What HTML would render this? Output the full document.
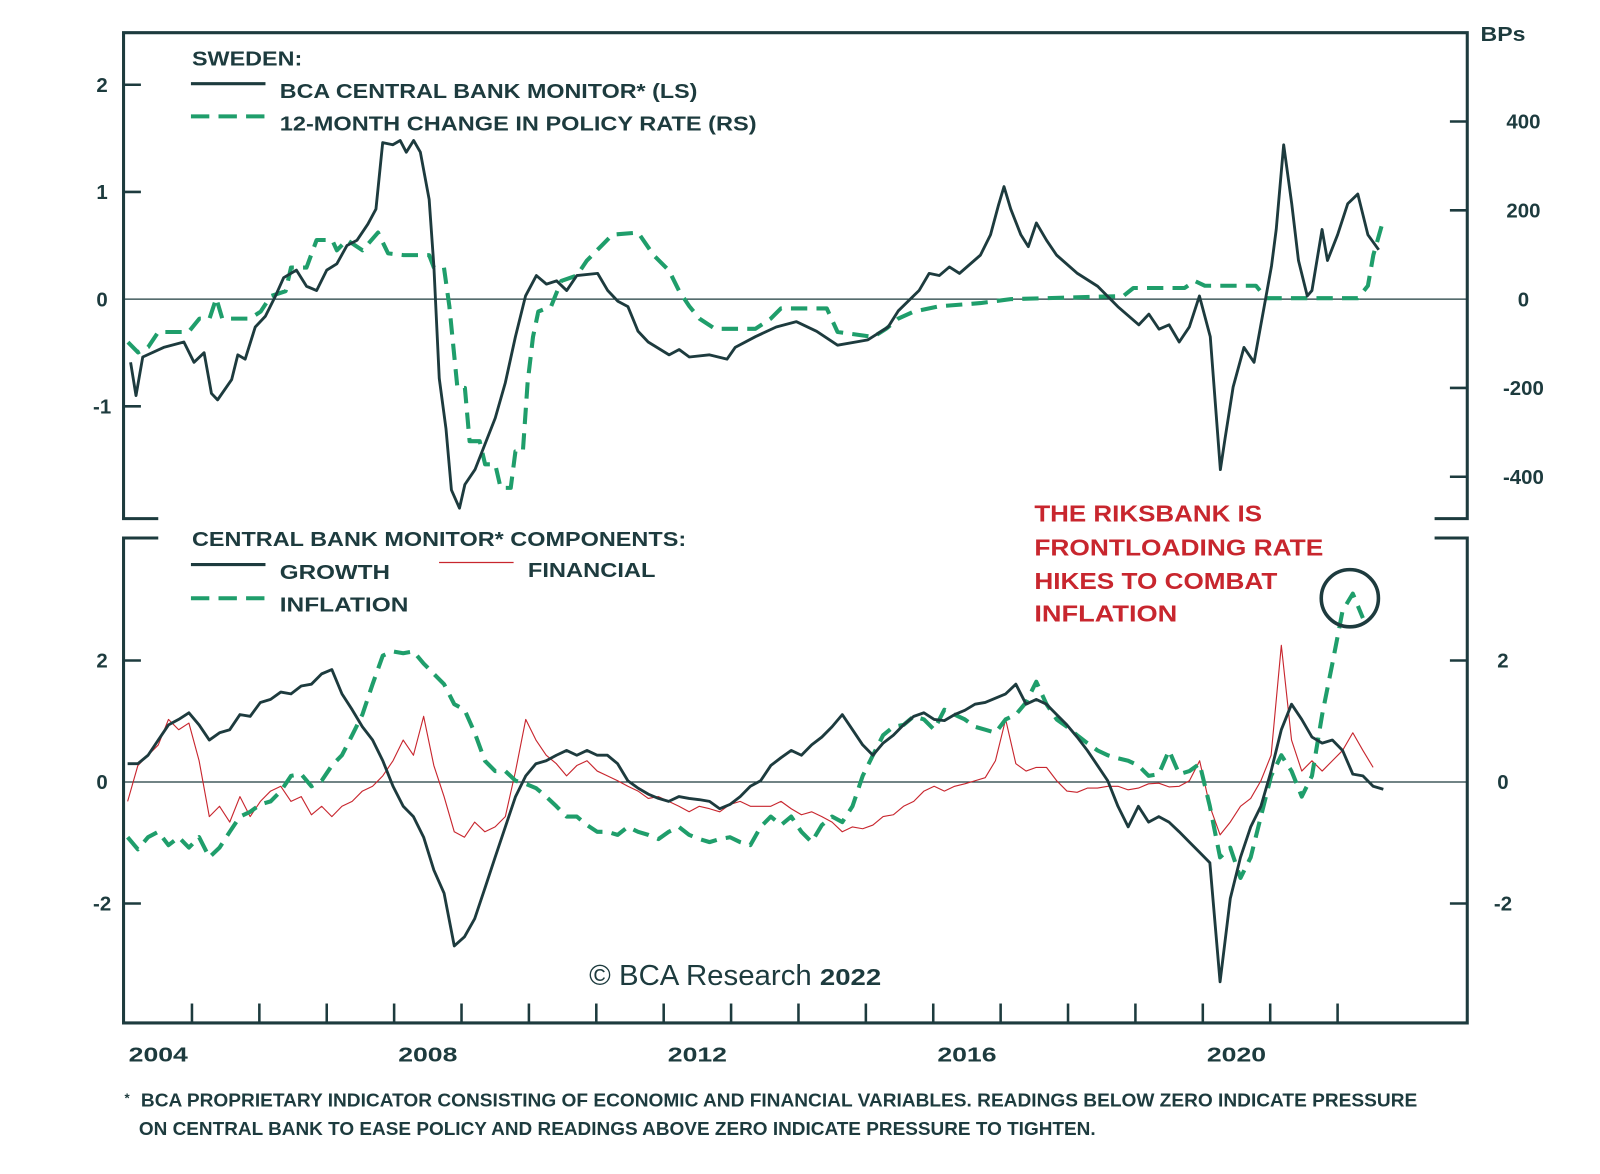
<!DOCTYPE html>
<html><head><meta charset="utf-8"><style>
html,body{margin:0;padding:0;background:#fff;}
svg{display:block;}
text{font-family:"Liberation Sans",sans-serif;}
</style></head><body>
<svg id="chart" width="1600" height="1174" viewBox="0 0 1567 1150" preserveAspectRatio="none" xmlns="http://www.w3.org/2000/svg">
<g id="frame" stroke="#1d3b3e" stroke-width="3" fill="none">
  <path d="M155,508 H121 V32 H1437 V508 H1405"/>
  <path d="M155,527 H121 V1002 H1437 V527 H1405"/>
</g>
<g id="ticks" stroke="#1d3b3e" stroke-width="2.5"></g>
<g id="labels" fill="#1d3b3e" font-weight="bold" font-size="20"></g>
<line x1="121" x2="1437" y1="293" y2="293" stroke="#1d3b3e" stroke-width="1.2"/>
<line x1="121" x2="1437" y1="766" y2="766" stroke="#1d3b3e" stroke-width="1.2"/>
<g id="series"></g>
<text x="1450" y="40" font-size="20" font-weight="bold" fill="#1d3b3e" textLength="44" lengthAdjust="spacingAndGlyphs">BPs</text>
<g fill="#1d3b3e" font-size="20" font-weight="bold">
  <text x="188" y="64" textLength="108" lengthAdjust="spacingAndGlyphs">SWEDEN:</text>
  <line x1="187" x2="260" y1="82" y2="82" stroke="#1d3b3e" stroke-width="3"/>
  <text x="274" y="96" textLength="409" lengthAdjust="spacingAndGlyphs">BCA CENTRAL BANK MONITOR* (LS)</text>
  <line x1="187" x2="262" y1="114" y2="114" stroke="#1f9e6b" stroke-width="4" stroke-dasharray="18,9"/>
  <text x="274" y="128" textLength="467" lengthAdjust="spacingAndGlyphs">12-MONTH CHANGE IN POLICY RATE (RS)</text>
</g>
<g fill="#1d3b3e" font-size="20" font-weight="bold">
  <text x="188" y="535" textLength="484" lengthAdjust="spacingAndGlyphs">CENTRAL BANK MONITOR* COMPONENTS:</text>
  <line x1="187" x2="260" y1="553" y2="553" stroke="#1d3b3e" stroke-width="3"/>
  <text x="274" y="567" textLength="108" lengthAdjust="spacingAndGlyphs">GROWTH</text>
  <line x1="430" x2="503" y1="551" y2="551" stroke="#c8262e" stroke-width="1.2"/>
  <text x="517" y="565" textLength="125" lengthAdjust="spacingAndGlyphs">FINANCIAL</text>
  <line x1="187" x2="262" y1="586" y2="586" stroke="#1f9e6b" stroke-width="4" stroke-dasharray="18,9"/>
  <text x="274" y="599" textLength="126" lengthAdjust="spacingAndGlyphs">INFLATION</text>
</g>
<g fill="#c8262e" font-size="23" font-weight="bold">
  <text x="1013" y="511" textLength="223" lengthAdjust="spacingAndGlyphs">THE RIKSBANK IS</text>
  <text x="1013" y="544" textLength="283" lengthAdjust="spacingAndGlyphs">FRONTLOADING RATE</text>
  <text x="1013" y="577" textLength="238" lengthAdjust="spacingAndGlyphs">HIKES TO COMBAT</text>
  <text x="1013" y="609" textLength="140" lengthAdjust="spacingAndGlyphs">INFLATION</text>
</g>
<circle cx="1322" cy="586" r="28" fill="none" stroke="#1d3b3e" stroke-width="3.5"/>
<g fill="#1d3b3e">
  <text x="577" y="965" font-family="Liberation Serif, serif" font-size="28" textLength="218" lengthAdjust="spacingAndGlyphs">© BCA Research</text>
  <text x="803" y="965" font-size="23" font-weight="bold" textLength="60" lengthAdjust="spacingAndGlyphs">2022</text>
</g>
<g fill="#1d3b3e" font-size="18" font-weight="bold">
  <text x="122" y="1080" font-size="13">*</text>
  <text x="138" y="1084" textLength="1250" lengthAdjust="spacingAndGlyphs">BCA PROPRIETARY INDICATOR CONSISTING OF ECONOMIC AND FINANCIAL VARIABLES. READINGS BELOW ZERO INDICATE PRESSURE</text>
  <text x="136" y="1112" textLength="937" lengthAdjust="spacingAndGlyphs">ON CENTRAL BANK TO EASE POLICY AND READINGS ABOVE ZERO INDICATE PRESSURE TO TIGHTEN.</text>
</g>
</svg>
<script>
// ---- data ----
const monitorYears=[2004.09,2004.17,2004.27,2004.58,2004.88,2005.03,2005.18,2005.29,2005.38,2005.59,2005.68,2005.79,2005.94,2006.09,2006.24,2006.36,2006.55,2006.70,2006.85,2007.00,2007.15,2007.30,2007.45,2007.61,2007.73,2007.83,2007.98,2008.09,2008.18,2008.29,2008.39,2008.52,2008.59,2008.67,2008.77,2008.85,2008.97,2009.05,2009.20,2009.35,2009.50,2009.65,2009.80,2009.95,2010.11,2010.26,2010.41,2010.56,2010.71,2011.02,2011.17,2011.32,2011.47,2011.62,2011.77,2012.08,2012.23,2012.38,2012.68,2012.94,2013.06,2013.36,2013.67,2013.97,2014.27,2014.58,2015.03,2015.33,2015.48,2015.79,2015.94,2016.09,2016.24,2016.39,2016.70,2016.85,2016.97,2017.05,2017.15,2017.30,2017.41,2017.53,2017.68,2017.83,2018.14,2018.44,2018.74,2019.05,2019.20,2019.35,2019.50,2019.65,2019.80,2019.95,2020.11,2020.26,2020.33,2020.45,2020.61,2020.76,2020.91,2021.02,2021.09,2021.20,2021.32,2021.42,2021.55,2021.62,2021.77,2021.85,2022.00,2022.15,2022.30,2022.45,2022.61];
const monitorValues=[-0.59,-0.90,-0.54,-0.45,-0.40,-0.59,-0.50,-0.88,-0.94,-0.75,-0.52,-0.56,-0.26,-0.16,0.03,0.20,0.27,0.12,0.08,0.27,0.33,0.50,0.55,0.70,0.84,1.46,1.44,1.48,1.37,1.48,1.37,0.93,0.31,-0.74,-1.21,-1.78,-1.95,-1.73,-1.59,-1.35,-1.11,-0.78,-0.35,0.03,0.22,0.14,0.17,0.08,0.22,0.24,0.08,-0.02,-0.07,-0.30,-0.40,-0.52,-0.47,-0.54,-0.52,-0.56,-0.45,-0.35,-0.26,-0.21,-0.30,-0.43,-0.38,-0.26,-0.11,0.08,0.24,0.22,0.30,0.24,0.41,0.60,0.88,1.05,0.84,0.60,0.49,0.71,0.55,0.41,0.24,0.12,-0.07,-0.24,-0.14,-0.28,-0.24,-0.40,-0.26,0.03,-0.35,-1.59,-1.30,-0.82,-0.45,-0.59,-0.07,0.31,0.65,1.44,0.89,0.36,0.03,0.08,0.65,0.36,0.60,0.89,0.98,0.60,0.46];
const policyYears=[2004.05,2004.20,2004.35,2004.50,2004.95,2005.11,2005.26,2005.36,2005.45,2005.86,2006.02,2006.17,2006.39,2006.47,2006.70,2006.85,2007.08,2007.15,2007.30,2007.53,2007.76,2007.91,2008.14,2008.52,2008.59,2008.74,2008.82,2008.94,2009.05,2009.12,2009.27,2009.35,2009.50,2009.58,2009.73,2009.80,2009.91,2009.98,2010.06,2010.14,2010.33,2010.48,2010.71,2010.86,2011.09,2011.24,2011.62,2011.85,2012.08,2012.23,2012.38,2012.53,2012.76,2013.36,2013.59,2013.74,2014.42,2014.58,2015.11,2015.30,2015.48,2015.71,2016.09,2016.70,2017.15,2018.82,2018.97,2019.73,2019.88,2020.03,2020.79,2020.94,2022.30,2022.45,2022.53,2022.68];
const policyBps=[-97,-120,-108,-74,-74,-44,-44,2,-44,-44,-28,7,18,71,71,133,133,110,133,110,150,103,99,99,71,71,-16,-200,-200,-320,-320,-372,-372,-425,-425,-343,-343,-189,-85,-28,-16,41,53,87,122,145,150,99,64,18,-16,-44,-67,-67,-44,-21,-21,-74,-85,-67,-44,-28,-16,-9,0,7,25,25,41,30,30,2,2,30,99,179];
const compStart=2004.045, compStep=0.1515;
const growthValues=[0.30,0.30,0.44,0.69,0.94,1.03,1.14,0.94,0.69,0.81,0.86,1.11,1.08,1.31,1.36,1.48,1.45,1.58,1.61,1.78,1.85,1.45,1.19,0.91,0.69,0.35,-0.07,-0.40,-0.57,-0.91,-1.45,-1.83,-2.70,-2.55,-2.25,-1.75,-1.24,-0.74,-0.24,0.10,0.30,0.35,0.44,0.52,0.44,0.52,0.44,0.44,0.30,0.02,-0.10,-0.20,-0.27,-0.32,-0.24,-0.27,-0.29,-0.32,-0.44,-0.37,-0.24,-0.07,0.02,0.27,0.40,0.52,0.44,0.61,0.74,0.91,1.11,0.86,0.61,0.44,0.64,0.77,0.94,1.08,1.14,1.03,1.01,1.11,1.18,1.28,1.31,1.38,1.45,1.61,1.28,1.36,1.28,1.11,0.94,0.74,0.52,0.27,0.02,-0.40,-0.74,-0.40,-0.66,-0.57,-0.66,-0.82,-0.99,-1.16,-1.33,-3.29,-1.92,-1.24,-0.74,-0.40,0.18,0.86,1.28,1.03,0.74,0.64,0.69,0.52,0.13,0.10,-0.07,-0.12];
const inflationValues=[-0.91,-1.11,-0.91,-0.82,-1.04,-0.91,-1.08,-0.91,-1.24,-1.08,-0.82,-0.57,-0.49,-0.37,-0.32,-0.15,0.10,0.13,-0.07,0.02,0.27,0.44,0.77,1.11,1.61,2.08,2.15,2.12,2.15,1.95,1.78,1.61,1.28,1.19,0.81,0.35,0.18,0.18,0.02,-0.03,-0.10,-0.24,-0.40,-0.57,-0.57,-0.71,-0.82,-0.82,-0.87,-0.74,-0.82,-0.87,-0.94,-0.82,-0.74,-0.87,-0.94,-0.99,-0.94,-0.91,-0.99,-1.04,-0.74,-0.57,-0.71,-0.57,-0.82,-0.99,-0.71,-0.57,-0.66,-0.40,0.10,0.44,0.77,0.91,0.94,1.08,1.03,0.86,1.19,1.11,1.03,0.91,0.86,0.81,1.03,1.11,1.31,1.65,1.28,1.03,0.91,0.77,0.64,0.52,0.44,0.39,0.35,0.27,0.10,0.13,0.52,0.13,0.18,0.30,-0.40,-1.24,-1.08,-1.58,-1.24,-0.57,0.10,0.44,0.18,-0.24,0.10,1.11,1.95,2.82,3.10,2.70];
const financialValues=[-0.32,0.27,0.44,0.61,1.03,0.86,0.97,0.35,-0.57,-0.40,-0.66,-0.24,-0.57,-0.32,-0.15,-0.07,-0.32,-0.24,-0.54,-0.40,-0.57,-0.40,-0.32,-0.15,-0.07,0.10,0.35,0.69,0.44,1.08,0.27,-0.24,-0.82,-0.91,-0.66,-0.82,-0.74,-0.57,0.18,1.03,0.69,0.44,0.30,0.10,0.27,0.35,0.18,0.10,0.02,-0.07,-0.15,-0.27,-0.24,-0.32,-0.40,-0.49,-0.40,-0.44,-0.49,-0.37,-0.32,-0.40,-0.40,-0.40,-0.32,-0.44,-0.54,-0.49,-0.57,-0.66,-0.82,-0.74,-0.77,-0.71,-0.57,-0.54,-0.40,-0.32,-0.15,-0.07,-0.15,-0.07,-0.03,0.02,0.07,0.35,1.03,0.30,0.18,0.24,0.24,0.02,-0.15,-0.17,-0.10,-0.10,-0.07,-0.07,-0.13,-0.10,-0.03,-0.02,-0.08,-0.07,0.02,0.35,-0.40,-0.87,-0.66,-0.40,-0.27,0.02,0.44,2.25,0.69,0.18,0.35,0.18,0.35,0.52,0.81,0.52,0.24];
const yearLabels=["2004","2008","2012","2016","2020"];
const leftTopTicks=[2,1,0,-1];
const rightTopTicks=[400,200,-200,-400];
const rightTopLabels=[400,200,0,-200,-400];
const bottomTicks=[2,0,-2];

// ---- scales ----
const NS="http://www.w3.org/2000/svg";
const xS=y=>122+66*(y-2004);
const yTop=v=>293-105*v;
const yBps=b=>293-0.435*b;
const yBot=v=>766-59.5*v;
function mk(tag,attrs,parent){const e=document.createElementNS(NS,tag);for(const k in attrs)e.setAttribute(k,attrs[k]);parent.appendChild(e);return e;}
const ticks=document.getElementById('ticks'), labels=document.getElementById('labels'), series=document.getElementById('series');

leftTopTicks.forEach(v=>{
  if(v!==0){const t=mk('line',{x1:121,x2:138,y1:yTop(v),y2:yTop(v)},ticks);
  
  }
  const l=mk('text',{x:100,y:yTop(v)+7,'text-anchor':'middle'},labels);l.textContent=v;
  
  
});
rightTopTicks.forEach(b=>{
  const t=mk('line',{x1:1420,x2:1437,y1:yBps(b),y2:yBps(b)},ticks);
  
  
});
rightTopLabels.forEach(b=>{
  const l=mk('text',{x:1492,y:yBps(b)+7,'text-anchor':'middle'},labels);l.textContent=b;
  
  
});
bottomTicks.forEach(v=>{
  if(v!==0){
    const a=mk('line',{x1:121,x2:138,y1:yBot(v),y2:yBot(v)},ticks);
    
    
    const b=mk('line',{x1:1420,x2:1437,y1:yBot(v),y2:yBot(v)},ticks);
    
    
  }
  const l=mk('text',{x:100,y:yBot(v)+7,'text-anchor':'middle'},labels);l.textContent=v;
  
  
  const r=mk('text',{x:1472,y:yBot(v)+7,'text-anchor':'middle'},labels);r.textContent=v;
  
  
});
for(let yr=2005;yr<=2022.9;yr++){
  const t=mk('line',{x1:xS(yr),x2:xS(yr),y1:983,y2:1002},ticks);
  
  
}
yearLabels.forEach(s=>{
  const l=mk('text',{x:xS(+s+0.5),y:1040,'text-anchor':'middle',textLength:58,lengthAdjust:'spacingAndGlyphs'},labels);l.textContent=s;
  
  
});

function path(xs,vs,ys,style,name){
  const d=vs.map((v,i)=>(i?'L':'M')+xS(xs[i]).toFixed(1)+','+ys(v).toFixed(1)).join('');
  const p=mk('path',Object.assign({d:d,fill:'none','stroke-linejoin':'round'},style),series);
  
  
}
const compYears=growthValues.map((_,i)=>compStart+i*compStep);
path(policyYears,policyBps,yBps,{stroke:'#1f9e6b','stroke-width':4,'stroke-dasharray':'16,9'},'policy-rate-line');
path(monitorYears,monitorValues,yTop,{stroke:'#1d3b3e','stroke-width':2.8},'monitor-line');
path(compYears,financialValues,yBot,{stroke:'#c8262e','stroke-width':1.1},'financial-line');
path(compYears,inflationValues,yBot,{stroke:'#1f9e6b','stroke-width':4,'stroke-dasharray':'16,9'},'inflation-line');
path(compYears,growthValues,yBot,{stroke:'#1d3b3e','stroke-width':2.8},'growth-line');
</script>
</body></html>
